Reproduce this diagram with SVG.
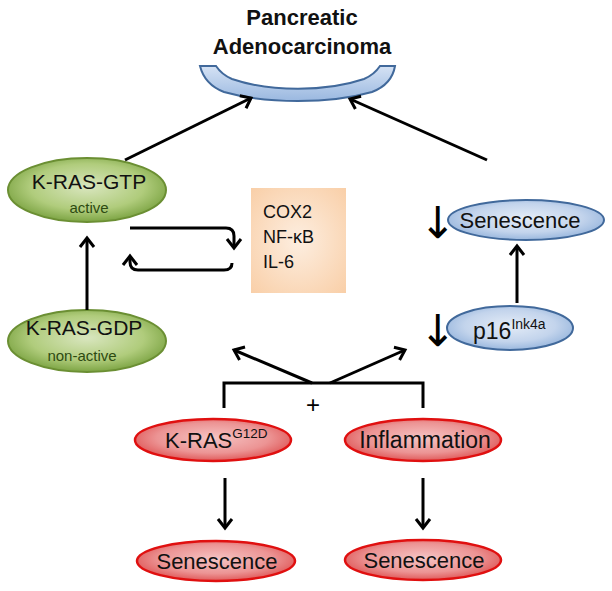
<svg xmlns="http://www.w3.org/2000/svg" width="612" height="591" viewBox="0 0 612 591">
<defs>
<radialGradient id="gGreen" cx="0.5" cy="0.45" r="0.6">
<stop offset="0" stop-color="#d9e6bf"/><stop offset="0.6" stop-color="#b0cc7c"/><stop offset="1" stop-color="#6f9a35"/>
</radialGradient>
<radialGradient id="gBlue" cx="0.5" cy="0.45" r="0.6">
<stop offset="0" stop-color="#e4ecf7"/><stop offset="0.6" stop-color="#c3d4ec"/><stop offset="1" stop-color="#8fb0da"/>
</radialGradient>
<radialGradient id="gRed" cx="0.5" cy="0.45" r="0.6">
<stop offset="0" stop-color="#f5c4c4"/><stop offset="0.6" stop-color="#ec9494"/><stop offset="1" stop-color="#dc4a4a"/>
</radialGradient>
<radialGradient id="gOrange" cx="0.5" cy="0.5" r="0.7">
<stop offset="0" stop-color="#fdeee0"/><stop offset="1" stop-color="#f9cfa8"/>
</radialGradient>
<linearGradient id="gArc" x1="0" y1="0" x2="0" y2="1">
<stop offset="0" stop-color="#d5e2f4"/><stop offset="1" stop-color="#9ab8e0"/>
</linearGradient>
<marker id="ah" markerWidth="20" markerHeight="20" refX="0" refY="0" viewBox="-12 -10 14 20" orient="auto" markerUnits="userSpaceOnUse">
<path d="M-9,-7 L0,0 L-9,7" fill="none" stroke="#000" stroke-width="3"/>
</marker>
</defs>
<style>
text{font-family:"Liberation Sans",Arial,sans-serif;fill:#111;}
.t{font-size:22px;text-anchor:middle;}
.s{font-size:15px;text-anchor:middle;fill:#2d4a12;}
.dn{font-family:"DejaVu Sans",sans-serif;font-size:44px;text-anchor:middle;fill:#000;}
.g ellipse{fill:url(#gGreen);stroke:#6b8f33;stroke-width:2;}
.b ellipse{fill:url(#gBlue);stroke:#41699b;stroke-width:2;}
.r ellipse{fill:url(#gRed);stroke:#e01010;stroke-width:2.5;}
.c{fill:none;stroke:#000;stroke-width:3;}
.a{marker-end:url(#ah);}
</style>
<rect width="612" height="591" fill="#fff"/>

<g id="title">
<text x="302" y="25" style="font-size:22px;font-weight:bold;text-anchor:middle">Pancreatic</text>
<text x="302" y="54" style="font-size:22px;font-weight:bold;text-anchor:middle">Adenocarcinoma</text>
<path d="M200,66 L216,66 C220,72 225,76 232,79 C270,92 326,92 364,79 C371,76 376,72 380,66 L395,66 C393,78 385,87 372,92 C330,104 266,104 224,92 C211,87 203,78 200,66 Z" fill="url(#gArc)" stroke="#41699b" stroke-width="2"/>
</g>

<g id="kras-gtp" class="g">
<ellipse cx="87" cy="190" rx="79" ry="32"/>
<text class="t" x="89" y="189" style="font-size:21px">K-RAS-GTP</text>
<text class="s" x="89" y="213">active</text>
</g>

<g id="kras-gdp" class="g">
<ellipse cx="87" cy="341" rx="79" ry="31"/>
<text class="t" x="84" y="335" style="font-size:21px">K-RAS-GDP</text>
<text class="s" x="82" y="361">non-active</text>
</g>

<g id="cytokines">
<rect x="251" y="188" width="95" height="105" fill="url(#gOrange)"/>
<text x="263" y="218" style="font-size:18px">COX2</text>
<text x="263" y="243" style="font-size:18px">NF-κB</text>
<text x="263" y="268" style="font-size:18px">IL-6</text>
</g>

<g id="senescence-top" class="b">
<ellipse cx="526" cy="220" rx="78" ry="20"/>
<text class="t" x="520" y="228">Senescence</text>
<text class="dn" x="438" y="238">↓</text>
</g>

<g id="p16" class="b">
<ellipse cx="510" cy="328" rx="63" ry="22"/>
<text x="473" y="339" style="font-size:23px">p16<tspan dy="-10" style="font-size:14px">Ink4a</tspan></text>
<text class="dn" x="438" y="346">↓</text>
</g>

<g id="kras-g12d" class="r">
<ellipse cx="213" cy="440" rx="78" ry="21"/>
<text x="165" y="448" style="font-size:22px">K-RAS<tspan dy="-10" style="font-size:13.5px">G12D</tspan></text>
</g>

<g id="inflammation" class="r">
<ellipse cx="423" cy="440" rx="78" ry="21"/>
<text class="t" x="425" y="448" style="font-size:23px">Inflammation</text>
</g>

<g id="senescence-left" class="r">
<ellipse cx="216" cy="561" rx="79" ry="20"/>
<text class="t" x="217" y="569">Senescence</text>
</g>

<g id="senescence-right" class="r">
<ellipse cx="423" cy="560" rx="78" ry="20"/>
<text class="t" x="424" y="568">Senescence</text>
</g>

<g id="connectors">
<line class="c a" x1="125" y1="160" x2="251" y2="98"/>
<line class="c a" x1="487" y1="160" x2="350" y2="99"/>
<line class="c a" x1="87" y1="310" x2="87" y2="238"/>
<line class="c a" x1="517" y1="303" x2="517" y2="246"/>
<path class="c a" d="M130,228 L226,228 Q234,228 234,236 L234,248"/>
<path class="c a" d="M232,263 Q232,270 224,270 L138,270 Q130,270 130,262 L130,256"/>
<path class="c" d="M224,408 L224,383 L423,383 L423,408"/>
<line class="c a" x1="312" y1="383" x2="234" y2="350"/>
<line class="c a" x1="330" y1="383" x2="405" y2="350"/>
<text x="313" y="413" style="font-size:24px;text-anchor:middle;fill:#000">+</text>
<line class="c a" x1="225" y1="478" x2="225" y2="528"/>
<line class="c a" x1="423" y1="478" x2="423" y2="528"/>
</g>
</svg>
